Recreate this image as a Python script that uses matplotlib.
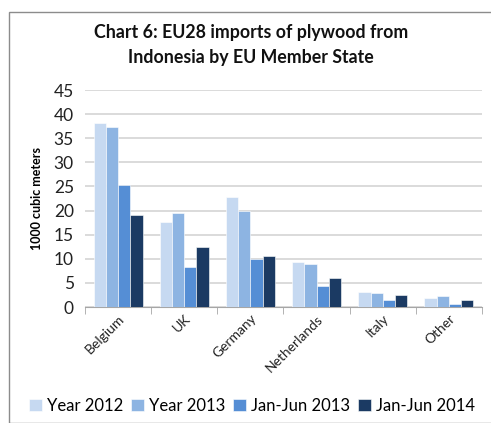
import matplotlib
matplotlib.use("Agg")
import matplotlib.pyplot as plt
import numpy as np
from matplotlib.patches import Rectangle

categories = ["Belgium", "UK", "Germany", "Netherlands", "Italy", "Other"]
series_names = ["Year 2012", "Year 2013", "Jan-Jun 2013", "Jan-Jun 2014"]
year_2012 = [38.2, 17.6, 22.9, 9.3, 3.2, 1.9]
year_2013 = [37.3, 19.5, 19.9, 8.9, 2.8, 2.2]
jan_jun_2013 = [25.3, 8.2, 10.0, 4.3, 1.4, 0.7]
jan_jun_2014 = [19.1, 12.5, 10.6, 6.0, 2.4, 1.4]
yticks = [0, 5, 10, 15, 20, 25, 30, 35, 40, 45]

colors = ["#c6d9f1", "#8db4e2", "#558ed5", "#1b3a63"]
series = [year_2012, year_2013, jan_jun_2013, jan_jun_2014]

plt.rcParams['font.family'] = ['Lato', 'DejaVu Sans']

W, H = 491, 423
fig = plt.figure(figsize=(W/100, H/100), dpi=100)
ax = fig.add_axes([85/W, 1-307/H, (482-85)/W, (307-90)/H])

x = np.arange(len(categories))
bw = 0.185
for i, (vals, c, name) in enumerate(zip(series, colors, series_names)):
    ax.bar(x + (i-1.5)*bw, vals, bw, color=c, label=name, edgecolor='white', linewidth=0.4, zorder=3)

ax.set_xlim(-0.5, len(categories)-0.5)
ax.set_ylim(0, 45)
ax.set_yticks(yticks)
ax.yaxis.grid(True, color='#d4d4d4', linewidth=1.2, zorder=0)
for s in ['top', 'right', 'left']:
    ax.spines[s].set_visible(False)
ax.spines['bottom'].set_color('#a6a6a6')
ax.tick_params(axis='y', length=0, labelsize=12.5, pad=8, colors='#222222')
ax.set_xticks(np.arange(-0.5, len(categories)), minor=True)
ax.set_xticks(x)
ax.set_xticklabels(categories, rotation=45, ha='right', rotation_mode='anchor', fontsize=10, color='#222222')
ax.tick_params(axis='x', which='major', length=0, pad=4)
ax.tick_params(axis='x', which='minor', length=5, color='#a6a6a6')
ax.set_ylabel("1000 cubic meters", fontsize=9, fontweight='bold', labelpad=8)

fig.text(251/W, 1-45/H, "Chart 6: EU28 imports of plywood from\nIndonesia by EU Member State",
         ha='center', va='center', fontsize=12.8, fontweight='bold', linespacing=1.55, color='#111111')

leg = fig.legend(loc='center', bbox_to_anchor=(252/W, 1-406/H), ncol=4, frameon=False,
                 fontsize=12, handlelength=0.75, handleheight=0.75, handletextpad=0.3,
                 columnspacing=0.5)

border = Rectangle((9/W, 0), 1.2, 1-12/H, transform=fig.transFigure, fill=False,
                   edgecolor='#8c8c8c', linewidth=1.0)
fig.patches.append(border)

fig.savefig("out.png", dpi=100)
